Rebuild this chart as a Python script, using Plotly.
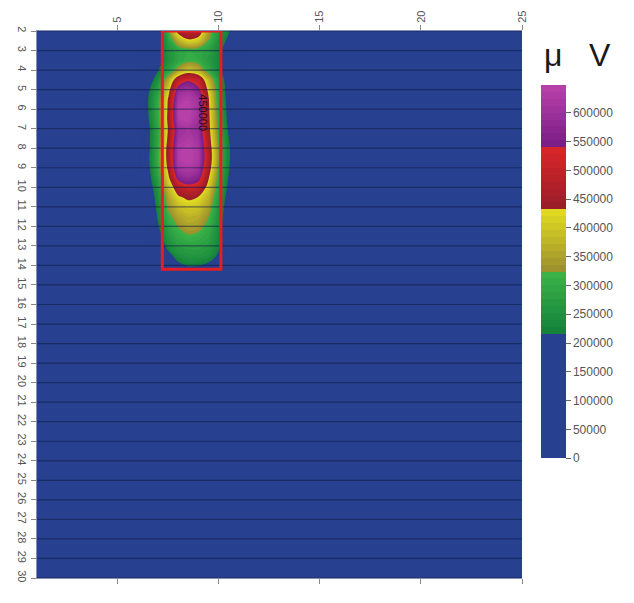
import numpy as np
import plotly.graph_objects as go

# ---- data (values in thousands of µV) ----
x_pos = [1, 6, 6.5, 7, 7.5, 8, 8.5, 9, 9.5, 10, 10.5, 11, 11.5, 25]
y_pos = [2, 2.5, 3, 3.5, 4, 4.5, 5, 5.5, 6, 6.5, 7, 7.5, 8, 8.5, 9, 9.5,
         10, 10.5, 11, 11.5, 12, 12.5, 13, 13.5, 14, 14.5, 15, 30]
z_k = [
    # 1   6   6.5  7   7.5  8    8.5  9    9.5  10   10.5 11   11.5 25
    [100, 100, 110, 160, 320, 460, 500, 480, 350, 260, 220, 150, 100, 100],  # 2
    [100, 100, 110, 170, 280, 370, 420, 400, 320, 250, 200, 130, 100, 100],  # 2.5
    [100, 100, 120, 180, 260, 290, 300, 295, 280, 235, 170, 120, 100, 100],  # 3
    [100, 100, 130, 190, 250, 290, 310, 300, 270, 230, 160, 110, 100, 100],  # 3.5
    [100, 105, 150, 215, 280, 345, 390, 365, 295, 235, 155, 110, 100, 100],  # 4
    [100, 110, 180, 250, 360, 490, 530, 495, 375, 265, 170, 115, 100, 100],  # 4.5
    [100, 115, 205, 280, 405, 575, 600, 555, 410, 275, 180, 120, 100, 100],  # 5
    [100, 120, 215, 300, 440, 620, 635, 600, 435, 285, 185, 120, 100, 100],  # 5.5
    [100, 120, 215, 305, 445, 640, 648, 605, 440, 290, 190, 120, 100, 100],  # 6
    [100, 115, 210, 305, 450, 635, 645, 600, 445, 295, 195, 120, 100, 100],  # 6.5
    [100, 110, 200, 295, 440, 600, 615, 590, 450, 300, 205, 125, 100, 100],  # 7
    [100, 110, 200, 295, 450, 610, 625, 600, 460, 310, 215, 130, 100, 100],  # 7.5
    [100, 110, 200, 305, 465, 630, 645, 620, 475, 320, 225, 135, 100, 100],  # 8
    [100, 110, 205, 310, 465, 635, 648, 625, 480, 325, 225, 135, 100, 100],  # 8.5
    [100, 110, 200, 300, 450, 615, 630, 605, 465, 315, 220, 130, 100, 100],  # 9
    [100, 105, 190, 285, 420, 570, 590, 565, 435, 300, 210, 125, 100, 100],  # 9.5
    [100, 100, 175, 265, 385, 480, 520, 500, 405, 285, 200, 120, 100, 100],  # 10
    [100, 100, 160, 250, 355, 425, 445, 430, 375, 270, 185, 115, 100, 100],  # 10.5
    [100, 100, 145, 240, 335, 385, 405, 395, 350, 260, 175, 110, 100, 100],  # 11
    [100, 100, 130, 228, 310, 355, 375, 365, 325, 250, 165, 105, 100, 100],  # 11.5
    [100, 100, 118, 212, 288, 328, 352, 342, 305, 240, 155, 100, 100, 100],  # 12
    [100, 100, 110, 190, 265, 300, 318, 310, 288, 235, 140, 100, 100, 100],  # 12.5
    [100, 100, 105, 160, 240, 275, 285, 285, 270, 225, 125, 100, 100, 100],  # 13
    [100, 100, 100, 120, 195, 245, 260, 260, 250, 205, 110, 100, 100, 100],  # 13.5
    [100, 100, 100, 100, 130, 200, 222, 218, 200, 150, 100, 100, 100, 100],  # 14
    [100, 100, 100, 100, 100, 130, 140, 130, 110, 100, 100, 100, 100, 100],  # 14.5
    [100, 100, 100, 100, 100, 100, 100, 100, 100, 100, 100, 100, 100, 100],  # 15
    [100, 100, 100, 100, 100, 100, 100, 100, 100, 100, 100, 100, 100, 100],  # 30
]
row_ticks = list(range(2, 31))
top_ticks = [5, 10, 15, 20, 25]
right_ticks = [5, 10, 15, 20, 25]
cbar_ticks = list(range(0, 600001, 50000))
peak_label = "450000"

z = np.array(z_k, dtype=float) * 1000

colorscale = [
    [0.0, "#27408f"], [0.3333, "#27408f"],
    [0.3334, "#13813b"], [0.5, "#3cb548"],
    [0.5001, "#9a8e2e"], [0.6666, "#e2dc22"],
    [0.6667, "#961c28"], [0.8333, "#d8262a"],
    [0.8334, "#761a84"], [1.0, "#b640a8"],
]

fig = go.Figure()
fig.add_trace(go.Contour(
    x=x_pos, y=y_pos, z=z,
    zmin=0, zmax=648000, zauto=False,
    colorscale=colorscale,
    contours=dict(start=12000, end=636000, size=12000, coloring="fill", showlines=False),
    line=dict(width=0),
    colorbar=dict(
        x=1.039, xanchor="left", xpad=0, ypad=0,
        y=0.901, yanchor="top", len=373, lenmode="pixels",
        thickness=25, outlinewidth=0,
        tickvals=cbar_ticks, tickformat="d", ticks="outside", ticklen=5, tickcolor="#666",
        tickfont=dict(size=12, color="#555", family="Liberation Sans, Arial"),
    ),
    showscale=True,
))

# grid lines drawn above the fill at each row
for yv in row_ticks:
    fig.add_shape(type="line", xref="x", yref="y", x0=1, x1=25, y0=yv, y1=yv,
                  line=dict(color="rgba(15,25,70,0.55)", width=1.2), layer="above")

# red box
fig.add_shape(type="rect", xref="x", yref="y", x0=7.2, x1=10.1, y0=2, y1=14.2,
              line=dict(color="#e31e24", width=3), layer="above")

fig.add_annotation(x=9.2, y=6.2, xref="x", yref="y", text=peak_label, textangle=90,
                   showarrow=False, font=dict(size=11, color="#2a0a22", family="Liberation Sans, Arial"))
fig.add_annotation(x=1.115, y=1.0, xref="paper", yref="paper", xanchor="center", yanchor="top",
                   yshift=-4, text="μ&nbsp;&nbsp;&nbsp;V", showarrow=False,
                   font=dict(size=32, color="#1a1a1a", family="Liberation Sans, Arial"))

fig.update_layout(
    width=634, height=603,
    margin=dict(l=29, r=120, t=23, b=33, autoexpand=False),
    paper_bgcolor="white", plot_bgcolor="#27408f",
    showlegend=False,
    xaxis=dict(range=[1, 25], side="top", tickvals=top_ticks, tickangle=-90, automargin=False,
               ticks="outside", ticklen=5, tickcolor="#888", showgrid=False, zeroline=False,
               showline=True, linecolor="#8890b8", linewidth=1, mirror="ticks",
               tickfont=dict(size=11, color="#555", family="Liberation Sans, Arial")),
    yaxis=dict(range=[30, 2], tickvals=row_ticks, tickangle=90, automargin=False,
               ticks="outside", ticklen=5, tickcolor="#888", showgrid=False, zeroline=False,
               showline=True, linecolor="#8890b8", linewidth=1,
               tickfont=dict(size=11, color="#555", family="Liberation Sans, Arial")),
    yaxis2=dict(range=[29.08, 2], overlaying="y", side="right", tickvals=right_ticks,
                showticklabels=False, ticks="outside", ticklen=5, tickcolor="#888", automargin=False,
                showgrid=False, zeroline=False, showline=True, linecolor="#8890b8"),
)

fig.write_html("out.html")
